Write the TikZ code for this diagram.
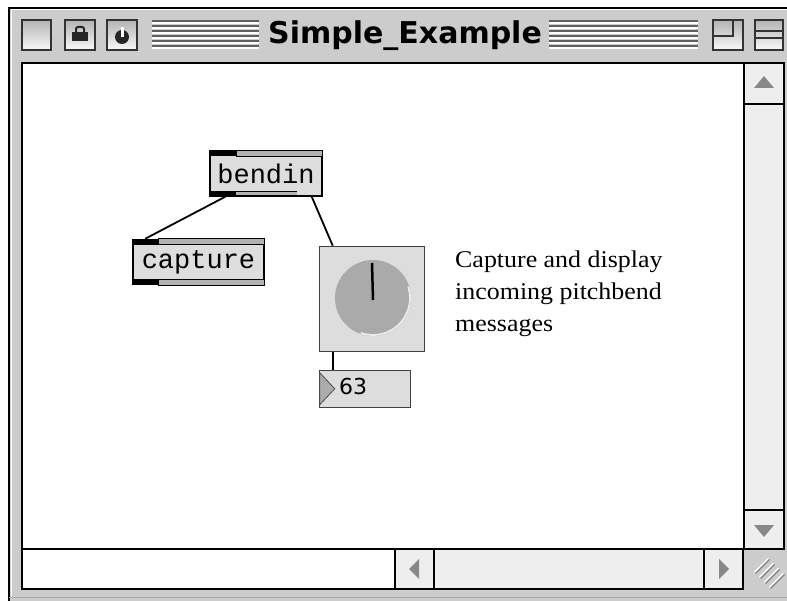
\documentclass[tikz,border=0pt]{standalone}
\usepackage{fontspec}
\usepackage{xcolor}
\setmonofont{Liberation Mono}
\newfontfamily\titlefont{DejaVu Sans}
\newfontfamily\notefont[FakeStretch=1.08]{Liberation Serif}
\newfontfamily\numfont{DejaVu Sans}
\definecolor{frame}{HTML}{CCCCCC}
\definecolor{objfill}{HTML}{DDDDDD}
\definecolor{barfill}{HTML}{EEEEEE}
\definecolor{arrowgray}{HTML}{888888}
\definecolor{knob}{HTML}{AAAAAA}

\begin{document}
\begin{tikzpicture}[x=1pt,y=-1pt,
  maxobj/.style={draw=black, line width=1.5pt, fill=objfill, inner sep=0pt,
    minimum height=45pt, font=\ttfamily\fontsize{27}{27}\selectfont},
  band/.style={fill=gray!60, draw=black, line width=0.8pt},
  cord/.style={draw=black, line width=1.8pt},
  tbox/.style={draw=black!80, line width=2pt, top color=gray!60, bottom color=gray!5},
  arr/.style={fill=arrowgray}]
\useasboundingbox (0,0) rectangle (787,601);
\fill[white] (0,0) rectangle (787,601);
% window frame and title bar
\fill[frame] (9,8) rectangle (787,601);
\draw[black, line width=1.5pt] (9,601) -- (9,8) -- (787,8);
\draw[white, line width=1pt] (11,597) -- (11,10) -- (787,10);
\draw[gray!70, line width=1pt] (9,597) -- (787,597);
\draw[tbox] (22,20) rectangle (51,50);
\draw[tbox] (65,20) rectangle (95,50);
\draw[tbox] (107,20) rectangle (137,50);
\draw[black!85, line width=2pt, rounded corners=2pt] (76,33) -- (76,27) -- (84,27) -- (84,33);
\fill[black!85] (72,32) rectangle (88,41);
\fill[black!85] (122,37) circle (7pt);
\fill[white] (120.5,27) rectangle (123.5,37);
\foreach \y in {21,26,...,46} {
  \draw[gray!75!black, line width=1.2pt] (152,\y) -- (259,\y);
  \draw[white, line width=1.4pt] (152,\y+2.2) -- (259,\y+2.2);
  \draw[gray!75!black, line width=1.2pt] (549,\y) -- (698,\y);
  \draw[white, line width=1.4pt] (549,\y+2.2) -- (698,\y+2.2);
}
\node[font=\titlefont\bfseries\fontsize{30}{30}\selectfont, inner sep=0pt] (title) at (405,36) {Simple\_Example};
\draw[tbox] (713,20) rectangle (743,50);
\draw[black!80, line width=1.5pt] (713,36) -- (733,36) -- (733,20);
\draw[tbox] (755,20) rectangle (783,50);
\draw[black!80, line width=1.5pt] (755,31) -- (783,31) (755,38) -- (783,38);
% patcher area and scroll bars
\filldraw[fill=white, draw=black, line width=1.8pt] (22,63) rectangle (744,549);
\filldraw[fill=barfill, draw=black, line width=1.8pt] (744,63) rectangle (784,549);
\draw[black, line width=1.8pt] (744,104) -- (784,104) (744,510) -- (784,510);
\fill[arr] (764,76) -- (774,88) -- (754,88) -- cycle;
\fill[arr] (764,537) -- (774,525) -- (754,525) -- cycle;
\filldraw[fill=white, draw=black, line width=1.8pt] (22,549) rectangle (395,589);
\filldraw[fill=barfill, draw=black, line width=1.8pt] (395,549) rectangle (743,589);
\draw[black, line width=1.8pt] (434,549) -- (434,589) (704,549) -- (704,589);
\fill[arr] (409,569) -- (419,559) -- (419,579) -- cycle;
\fill[arr] (729,569) -- (719,559) -- (719,579) -- cycle;
\foreach \k in {0,...,3} {
  \draw[white, line width=1.5pt] ({762+5*(\k-1.5)},{580+5*(\k-1.5)}) -- ++(14,-14);
  \draw[gray, line width=1.2pt] ({763+5*(\k-1.5)},{581+5*(\k-1.5)}) -- ++(14,-14);
}
% objects
\node[maxobj, minimum width=112pt] (bendin) at (266,173.5) {bendin};
\fill[black] (bendin.north west) rectangle ++(27,6);
\filldraw[band] ([xshift=27pt]bendin.north west) rectangle ([yshift=-6pt]bendin.north east);
\fill[black] (bendin.south west) rectangle ([xshift=-26pt, yshift=6pt]bendin.south east);
\fill[gray!60] ([xshift=27pt, yshift=1.5pt]bendin.south west) rectangle ([xshift=-26pt, yshift=4.5pt]bendin.south east);
\node[maxobj, minimum width=131pt] (capture) at (198.5,262) {capture};
\fill[black] (capture.north west) rectangle ++(26,6);
\filldraw[band] ([xshift=26pt]capture.north west) rectangle ([yshift=-6pt]capture.north east);
\fill[black] (capture.south west) rectangle ++(26,-6);
\filldraw[band] ([xshift=26pt]capture.south west) rectangle ([yshift=6pt]capture.south east);
\node[draw=black!75, line width=1.5pt, fill=objfill, minimum size=105pt, inner sep=0pt] (dial) at (372,299) {};
\fill[knob] (373,298) circle (38pt);
\draw[white!85!gray, line width=1.8pt] plot[domain=-18:109, samples=40] ({373+37*cos(\x)},{298+37*sin(\x)});
\draw[black, line width=2.5pt] (372,263) -- (373,300);
\node[draw=black!75, line width=1.5pt, fill=objfill, minimum width=91pt, minimum height=37pt, inner sep=0pt] (num) at (365,389) {};
\filldraw[fill=gray!65, draw=black!70, line width=0.8pt] ([xshift=1pt, yshift=-3pt]num.north west) -- ++(15,16) -- ++(-15,16) -- cycle;
\node[font=\numfont\fontsize{22}{22}\selectfont, anchor=base west, inner sep=0pt] (val) at (339,395) {63};
% patch cords
\draw[cord] ([xshift=16pt]bendin.south west) -- ([xshift=13pt]capture.north west);
\draw[cord] ([xshift=-11pt]bendin.south east) -- ([xshift=14pt]dial.north west);
\draw[cord] ([xshift=14pt]dial.south west) -- ([xshift=14pt]num.north west);
% comment
\node[font=\notefont\fontsize{24}{32}\selectfont, align=left, anchor=base west, inner sep=0pt] (note) at (455,332) {Capture and display\\incoming pitchbend\\messages};
\end{tikzpicture}
\end{document}
